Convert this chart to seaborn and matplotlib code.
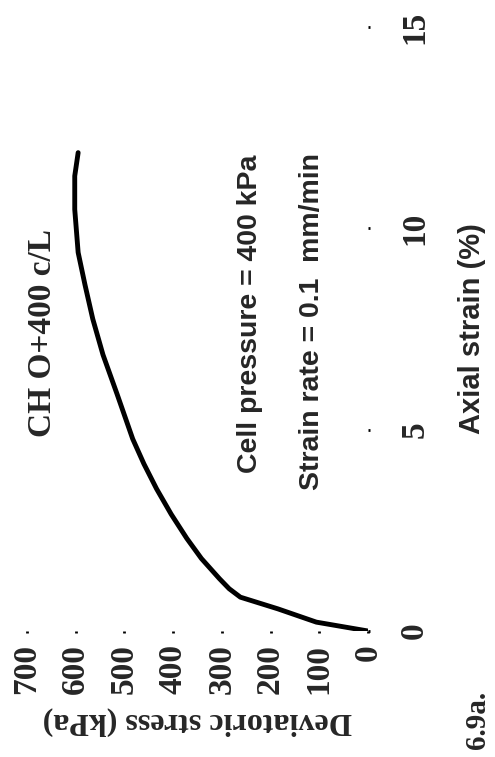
import matplotlib
matplotlib.use("Agg")
from matplotlib import pyplot as plt
import seaborn as sns
import pandas as pd

sns.set_style("white")

# curve
strain = [0, 0.22, 0.55, 0.84, 1.05, 1.3, 1.8, 2.3, 2.9, 3.53, 4.15, 4.77, 5.88, 6.86, 7.75, 8.6, 9.4, 10.47, 11.3, 11.88]
stress = [0, 106, 185, 262, 285, 305, 342, 372, 404, 434, 460, 483, 515, 544, 565, 581, 595, 602, 602, 595]

stress_ticks = [0, 100, 200, 300, 400, 500, 600, 700]
strain_ticks = [0, 5, 10, 15]

serif = ["Liberation Serif", "DejaVu Serif"]
sans = ["Liberation Sans", "DejaVu Sans"]

W, H = 495, 757
fig = plt.figure(figsize=(W / 100, H / 100), dpi=100)
# figure is drawn turned a quarter turn, like the scanned page
ax = fig.add_axes([27 / W, (H - 631) / H, (368 - 27) / W, (631 - 27) / H])

df = pd.DataFrame({"stress": stress, "strain": strain})
sns.lineplot(data=df, x="stress", y="strain", sort=False, estimator=None, color="black", lw=3.5, ax=ax)

ax.set_xlim(700, 0)
ax.set_ylim(0, 15)
for s in ax.spines.values():
	s.set_visible(False)

ax.set_xticks(stress_ticks)
ax.set_xticklabels([str(t) for t in stress_ticks], rotation=90, family=serif, fontweight="bold", fontsize=24)
ax.yaxis.tick_right()
ax.set_yticks(strain_ticks)
ax.set_yticklabels([str(t) for t in strain_ticks], rotation=90, family=serif, fontweight="bold", fontsize=24, va="center")
ax.tick_params(axis="x", direction="out", length=1.5, width=2, color="black", pad=8, bottom=True)
ax.tick_params(axis="y", direction="out", length=1.5, width=2, color="black", pad=21, right=True, left=False)

ax.set_xlabel("Deviatoric stress (kPa)", rotation=180, family=serif, fontweight="bold", fontsize=23, labelpad=9)
ax.yaxis.set_label_position("right")
ax.set_ylabel("Axial strain (%)", rotation=90, family=sans, fontweight="bold", fontsize=21, labelpad=20)

fig.text(43 / W, 1 - 333 / H, "CH O+400 c/L", rotation=90, family=serif, fontweight="bold", fontsize=24, ha="center", va="center")
fig.text(250 / W, 1 - 314 / H, "Cell pressure = 400 kPa", rotation=90, family=sans, fontweight="bold", fontsize=20.5, ha="center", va="center")
fig.text(312 / W, 1 - 321 / H, "Strain rate = 0.1  mm/min", rotation=90, family=sans, fontweight="bold", fontsize=20.5, ha="center", va="center")
fig.text(478 / W, 1 - 720 / H, "6.9a.", rotation=90, family=serif, fontweight="bold", fontsize=21, ha="center", va="center")

fig.savefig("out.png", dpi=100)
